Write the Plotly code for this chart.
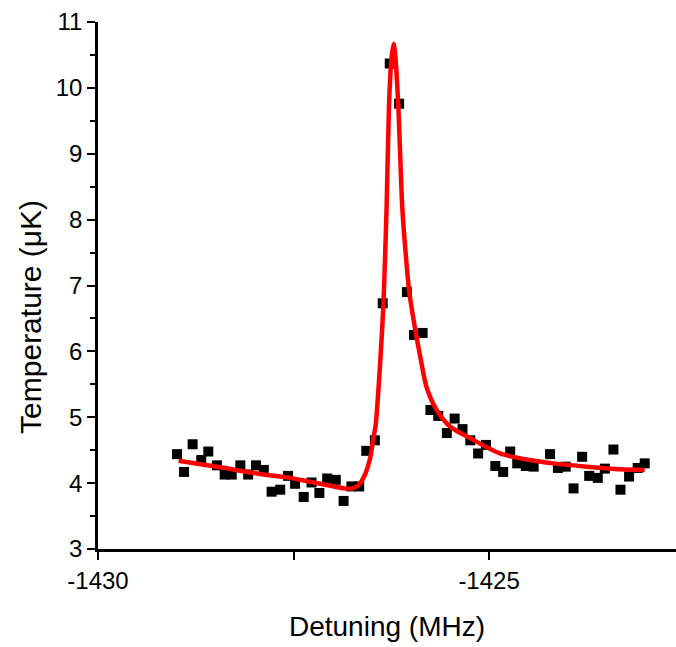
import plotly.graph_objects as go

# Measured data points (detuning in MHz, temperature in uK)
detuning = [-1428.99, -1428.90, -1428.79, -1428.68, -1428.59, -1428.48, -1428.38, -1428.29,
            -1428.18, -1428.08, -1427.98, -1427.88, -1427.78, -1427.67, -1427.57, -1427.48,
            -1427.37, -1427.27, -1427.17, -1427.07, -1426.96, -1426.86, -1426.76, -1426.66,
            -1426.57, -1426.46, -1426.36, -1426.27, -1426.15, -1426.05, -1425.96, -1425.85,
            -1425.75, -1425.65, -1425.54, -1425.44, -1425.34, -1425.24, -1425.14, -1425.04,
            -1424.92, -1424.82, -1424.73, -1424.64, -1424.53, -1424.43, -1424.22, -1424.12,
            -1424.02, -1423.92, -1423.81, -1423.72, -1423.61, -1423.52, -1423.41, -1423.32,
            -1423.21, -1423.10, -1423.01]
temperature = [4.44, 4.17, 4.59, 4.35, 4.48, 4.27, 4.13, 4.13,
               4.27, 4.13, 4.27, 4.20, 3.87, 3.90, 4.11, 3.99,
               3.79, 4.01, 3.85, 4.07, 4.05, 3.73, 3.95, 3.95,
               4.49, 4.65, 6.73, 10.37, 9.76, 6.90, 6.25, 6.28,
               5.11, 5.02, 4.76, 4.98, 4.82, 4.65, 4.45, 4.58,
               4.26, 4.17, 4.48, 4.30, 4.26, 4.25, 4.44, 4.23,
               4.25, 3.92, 4.40, 4.11, 4.08, 4.22, 4.51, 3.90,
               4.10, 4.23, 4.30]

# Fit curve
fit_x = [-1428.97, -1428.44, -1427.93, -1427.54, -1427.29, -1427.03, -1426.84, -1426.75,
         -1426.67, -1426.59, -1426.52, -1426.48, -1426.45, -1426.39, -1426.35, -1426.31,
         -1426.28, -1426.25, -1426.22, -1426.20, -1426.16, -1426.11, -1426.07, -1426.02,
         -1425.95, -1425.88, -1425.80, -1425.67, -1425.50, -1425.24, -1424.86, -1424.48,
         -1424.18, -1423.75, -1423.32, -1423.01]
fit_y = [4.34, 4.24, 4.14, 4.08, 4.02, 3.96, 3.92, 3.92,
         3.97, 4.12, 4.38, 4.68, 4.88, 5.87, 6.73, 8.19,
         9.71, 10.42, 10.67, 10.50, 9.71, 8.19, 7.54, 6.90,
         6.37, 5.92, 5.46, 5.11, 4.86, 4.68, 4.45, 4.35,
         4.30, 4.25, 4.21, 4.20]

x_ticks = [-1430, -1425]
y_ticks = [3, 4, 5, 6, 7, 8, 9, 10, 11]

FONT = "Liberation Sans, Arial, sans-serif"

fig = go.Figure()
fig.add_trace(go.Scatter(
    x=detuning, y=temperature, mode="markers",
    marker=dict(symbol="square", size=10, color="black", line=dict(width=0)),
    showlegend=False, cliponaxis=False))
fig.add_trace(go.Scatter(
    x=fit_x, y=fit_y, mode="lines",
    line=dict(color="#ff0000", width=4.5, shape="spline", smoothing=0.7),
    showlegend=False))

fig.update_layout(
    width=676, height=647,
    margin=dict(l=98, r=0, t=22, b=98),
    paper_bgcolor="white", plot_bgcolor="white",
    font=dict(family=FONT, color="black"),
    xaxis=dict(
        range=[-1430, -1422.61], tickvals=x_ticks, ticktext=[str(v) for v in x_ticks],
        showgrid=False, zeroline=False,
        showline=True, linecolor="black", linewidth=2.5,
        ticks="outside", ticklen=8, tickwidth=2, tickcolor="black",
        minor=dict(tickvals=[-1427.5], ticks="outside", ticklen=8, tickwidth=2, tickcolor="black"),
        tickfont=dict(size=24, family=FONT),
        title=dict(text="Detuning (MHz)", font=dict(size=28, family=FONT), standoff=24),
    ),
    yaxis=dict(
        range=[3, 11], tickvals=y_ticks,
        showgrid=False, zeroline=False,
        showline=True, linecolor="black", linewidth=2.5,
        ticks="outside", ticklen=8, tickwidth=2, tickcolor="black",
        minor=dict(dtick=0.5, ticks="outside", ticklen=5, tickwidth=2, tickcolor="black"),
        tickfont=dict(size=24, family=FONT),
    ),
    annotations=[dict(
        text="Temperature (\u03bcK)", textangle=-90,
        xref="paper", yref="paper", x=-0.118, y=0.44,
        xanchor="center", yanchor="middle", showarrow=False,
        font=dict(size=30, family=FONT, color="black"))],
)

fig.write_html("out.html")
